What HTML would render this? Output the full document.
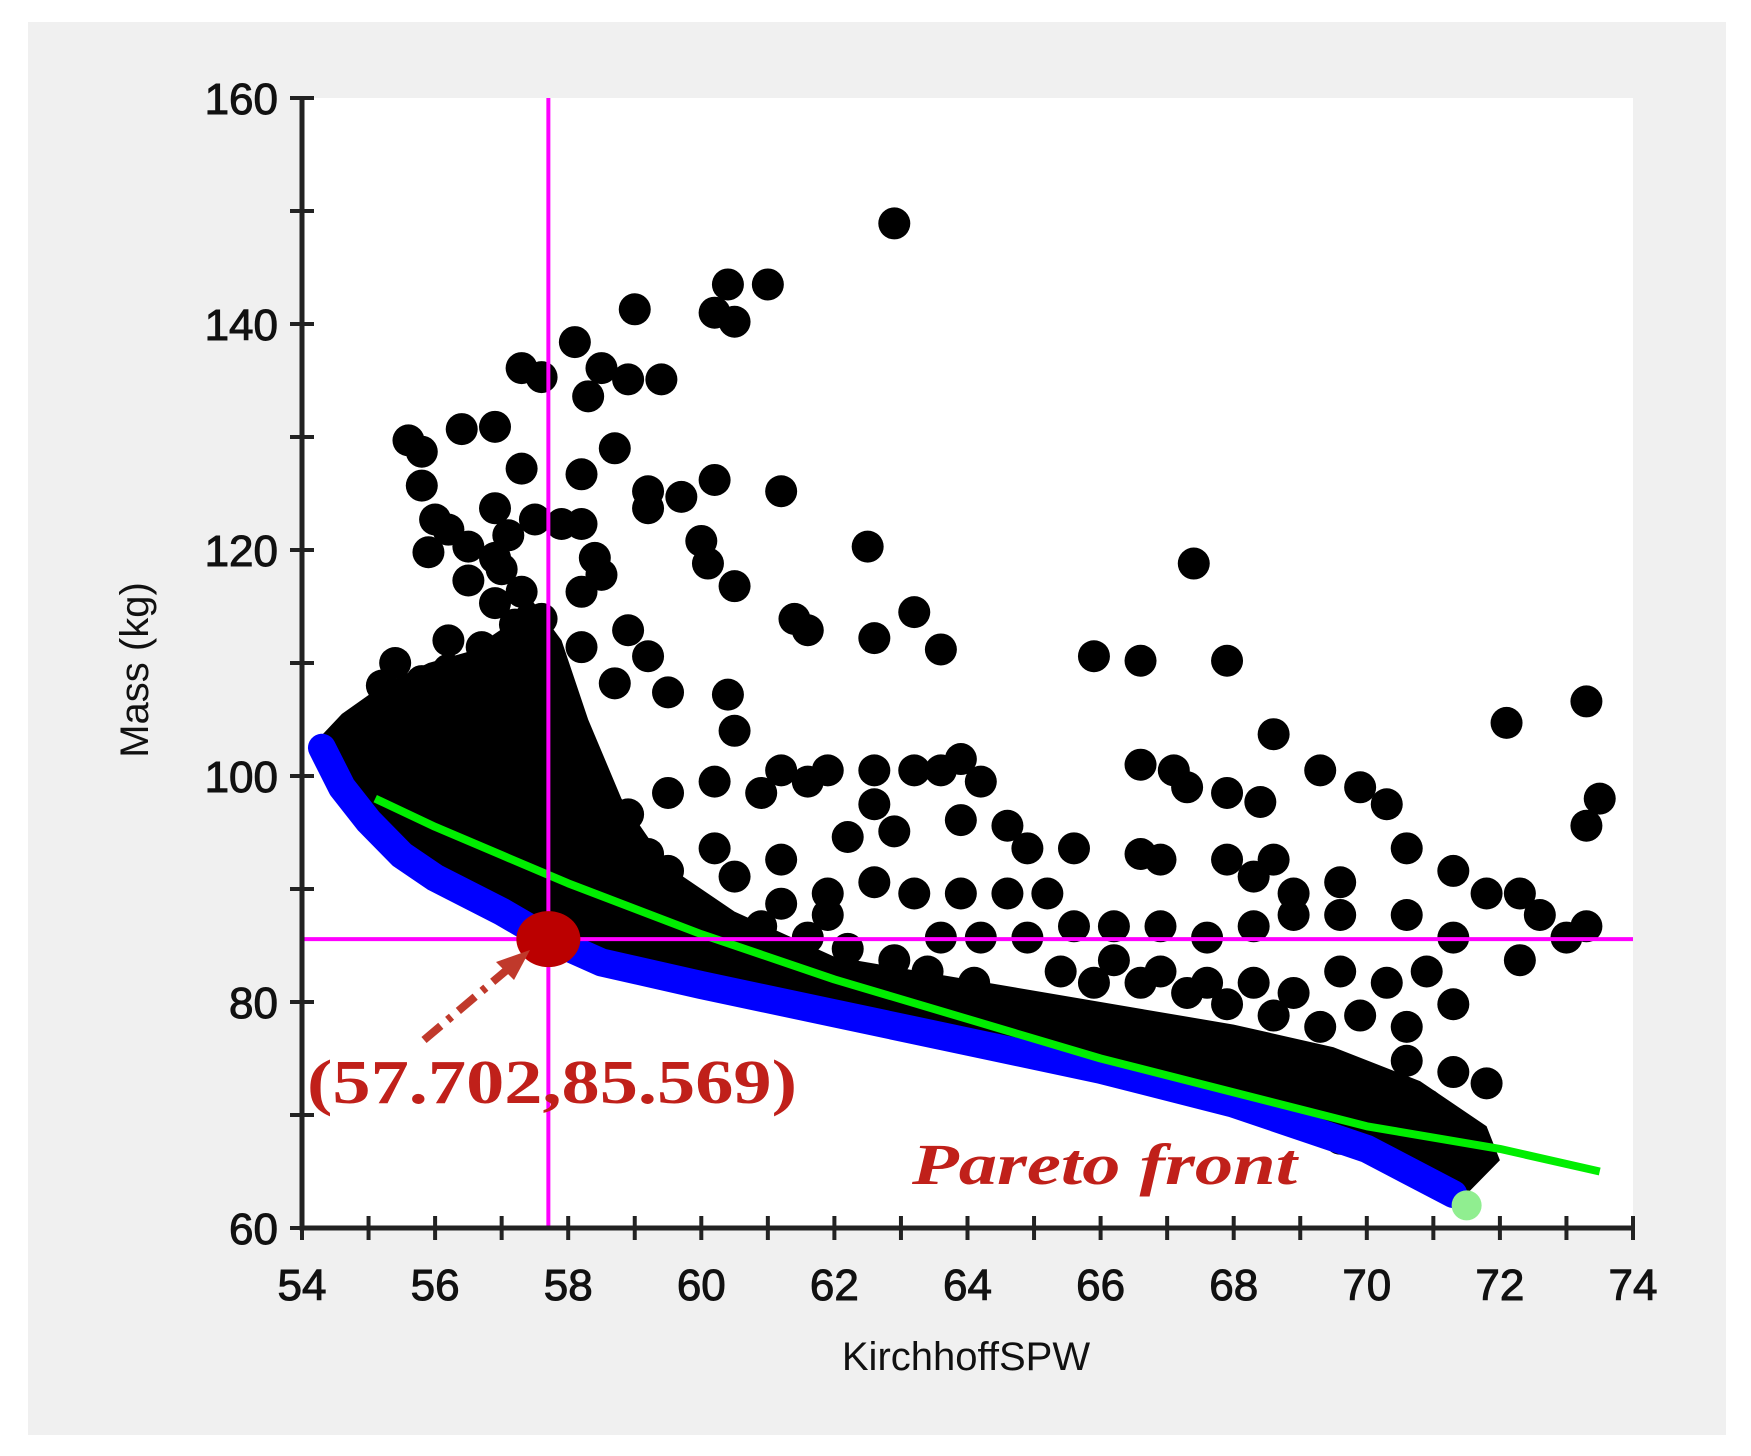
<!DOCTYPE html>
<html><head><meta charset="utf-8"><style>
body{margin:0;background:#fff;width:1751px;height:1456px;overflow:hidden}
svg{display:block}
</style></head><body>
<svg id="chart" width="1751" height="1456" viewBox="0 0 1751 1456">
<rect x="28" y="22" width="1698" height="1413" fill="#f0f0f0"/>
<rect x="302" y="98" width="1331" height="1130" fill="#fff"/>
<g id="dense"></g><g id="pts"></g><g id="front"></g><g id="axes"></g><g id="ann"></g>
</svg>
<script>
const xTicks=[54,56,58,60,62,64,66,68,70,72,74];
const yTicks=[60,80,100,120,140,160];
const xs=[62.9,60.4,61.0,59.0,60.2,60.5,58.1,57.3,57.6,58.5,58.9,59.4,58.3,55.6,55.8,56.4,56.9,57.3,58.2,58.7,59.2,60.2,61.2,59.2,59.7,55.8,56.9,56.0,56.2,55.9,56.5,57.1,57.5,57.9,58.2,58.4,60.0,60.1,60.5,62.5,67.4,61.4,61.6,62.6,63.2,63.6,58.9,59.2,65.9,66.6,67.9,58.2,58.5,58.2,58.7,59.5,60.4,73.3,72.1,68.6,69.3,69.9,70.3,73.5,73.3,67.3,67.9,68.4,66.6,67.1,60.5,61.2,61.9,62.6,63.2,63.6,63.9,64.2,64.6,63.9,62.9,62.2,62.6,61.6,60.9,60.2,59.5,58.9,59.2,58.2,57.9,58.5,59.2,59.5,60.2,60.5,61.2,61.9,62.6,63.2,63.9,64.6,65.2,64.9,65.6,66.6,66.9,67.9,68.6,68.9,68.3,69.6,70.6,71.3,71.8,72.3,72.6,73.0,73.3,72.3,71.3,70.6,69.6,68.9,68.3,67.6,66.9,66.2,65.6,64.9,64.2,63.6,66.2,66.9,67.6,68.3,68.9,69.6,70.3,70.9,71.3,70.6,69.9,69.3,68.6,67.9,67.3,66.6,65.9,65.4,71.8,71.3,70.9,70.6,69.6,68.9,70.1,70.8,71.3,71.4,69.6,68.8,67.9,67.3,66.6,65.9,65.2,64.6,64.1,63.4,62.9,62.2,61.6,61.9,61.2,60.9,56.5,56.9,57.2,56.7,56.2,55.8,57.4,57.0,56.5,57.4,57.2,57.9,57.9,58.1,57.6,57.3,57.0,56.9,56.2,55.4,55.2];
const ys=[148.9,143.5,143.5,141.3,141.0,140.2,138.4,136.1,135.3,136.1,135.1,135.1,133.6,129.7,128.7,130.7,130.9,127.2,126.7,129.0,125.2,126.2,125.2,123.7,124.7,125.7,123.7,122.7,121.8,119.8,120.3,121.3,122.7,122.3,122.3,119.3,120.8,118.8,116.8,120.3,118.8,113.9,112.9,112.2,114.5,111.2,112.9,110.6,110.6,110.2,110.2,116.3,117.8,111.4,108.2,107.4,107.2,106.6,104.7,103.7,100.5,99.0,97.5,98.0,95.6,99.0,98.5,97.7,101.0,100.5,104.0,100.5,100.5,100.5,100.5,100.5,101.5,99.5,95.6,96.1,95.1,94.6,97.5,99.5,98.5,99.5,98.5,96.6,93.1,93.6,97.5,91.6,89.6,91.6,93.6,91.1,92.6,89.6,90.6,89.6,89.6,89.6,89.6,93.6,93.6,93.1,92.6,92.6,92.6,89.6,91.1,90.6,93.6,91.6,89.6,89.6,87.7,85.7,86.7,83.7,85.7,87.7,87.7,87.7,86.7,85.7,86.7,86.7,86.7,85.7,85.7,85.7,83.7,82.7,81.7,81.7,80.8,82.7,81.7,82.7,79.8,77.8,78.8,77.8,78.8,79.8,80.8,81.7,81.7,82.7,72.8,73.8,70.9,74.8,73.8,74.8,69.9,68.9,67.9,66.2,67.9,70.9,73.8,74.8,76.8,77.8,78.8,79.8,81.7,82.7,83.7,84.7,85.7,87.7,88.7,86.7,117.3,115.3,113.4,111.4,109.4,108.4,110.4,107.4,105.5,105.5,99.5,105.5,99.5,96.6,113.9,116.3,118.3,119.3,112.0,110.0,108.0];
const denseX=[54.2,54.6,55.2,55.9,56.5,57.0,57.4,57.9,58.3,58.8,59.5,60.5,62.0,64.0,66.0,68.0,69.5,70.8,71.8,72.0,71.5,70.0,68.0,66.0,64.0,62.0,60.0,58.5,57.7,57.0,56.0,55.5,55.0,54.6,54.3];
const denseY=[103,105.5,108,110,111,113,116,112,105,98,92,88,84,82,80,78,76,73,69,66,63,67,71,74,76.5,79,81.5,83.5,85.6,88,91,93,96,99,102.5];
const frontX=[54.3,54.6,55.0,55.5,56.0,57.0,57.7,58.5,60.0,62.0,64.0,66.0,68.0,70.0,71.3];
const frontY=[102.5,99,96,93,91,88,85.6,83.5,81.5,79,76.5,74,71,67,63];
const greenX=[55.1,56.0,57.0,58.0,60.0,62.0,64.0,66.0,68.0,70.0,72.0,73.5];
const greenY=[98,95.5,93,90.5,86,82,78.5,75,72,69,67,65];
const selX=57.702, selY=85.569;
const endX=71.5, endY=62;

const X0=302,X1=1633,Y0=1228,Y1=98;
const sx=v=>X0+(v-54)/(74-54)*(X1-X0);
const sy=v=>Y0-(v-60)/(160-60)*(Y0-Y1);
const NS='http://www.w3.org/2000/svg';
function mk(tag,attrs,parent){const e=document.createElementNS(NS,tag);for(const k in attrs)e.setAttribute(k,attrs[k]);document.getElementById(parent).appendChild(e);return e;}
const SANS='font-family:"Liberation Sans",sans-serif';
const SERIF='font-family:"Liberation Serif",serif';

let d=denseX.map((v,i)=>(i?'L':'M')+sx(v)+','+sy(denseY[i])).join('')+'Z';
let dp=mk('path',{d:d,fill:'#000'},'dense');



xs.forEach((v,i)=>{
 const c=mk('circle',{cx:sx(v),cy:sy(ys[i]),r:16,fill:'#000'},'pts');
 
 
});

let fp=mk('path',{d:frontX.map((v,i)=>(i?'L':'M')+sx(v)+','+sy(frontY[i])).join(''),fill:'none',stroke:'#0000ff','stroke-width':28,'stroke-linecap':'round','stroke-linejoin':'round'},'front');


let gp=mk('path',{d:greenX.map((v,i)=>(i?'L':'M')+sx(v)+','+sy(greenY[i])).join(''),fill:'none',stroke:'#00ee00','stroke-width':8,'stroke-linejoin':'round'},'front');



let vl=mk('line',{x1:sx(selX),x2:sx(selX),y1:Y1,y2:Y0,stroke:'#ff00ff','stroke-width':4},'front');


let hl=mk('line',{x1:X0,x2:X1,y1:sy(selY),y2:sy(selY),stroke:'#ff00ff','stroke-width':4},'front');


let rd=mk('ellipse',{cx:sx(selX),cy:sy(selY),rx:32,ry:28,fill:'#bb0000'},'front');


let ed=mk('circle',{cx:sx(endX),cy:sy(endY),r:15,fill:'#90ee90'},'front');



let ax=mk('path',{d:`M${X0},${Y1-2}V${Y0}H${X1+2}`,fill:'none',stroke:'#222','stroke-width':5},'axes');


for(let v=54;v<=74;v++){const t=mk('line',{x1:sx(v),x2:sx(v),y1:Y0-12,y2:Y0+12,stroke:'#222','stroke-width':4},'axes');
 }
for(let v=60;v<=160;v+=10){const t=mk('line',{x1:X0-12,x2:X0+12,y1:sy(v),y2:sy(v),stroke:'#222','stroke-width':4},'axes');
 }
xTicks.forEach(v=>{const t=mk('text',{x:sx(v),y:Y0+72,'text-anchor':'middle','font-size':44,fill:'#111',stroke:'#111','stroke-width':1,style:SANS},'axes');t.textContent=v;
 });
yTicks.forEach(v=>{const t=mk('text',{x:X0-24,y:sy(v)+16,'text-anchor':'end','font-size':44,fill:'#111',stroke:'#111','stroke-width':1,style:SANS},'axes');t.textContent=v;
 });
let xt=mk('text',{x:966,y:1370,'text-anchor':'middle','font-size':40,fill:'#111',style:SANS},'axes');xt.textContent='KirchhoffSPW';

let yt=mk('text',{x:0,y:0,'text-anchor':'middle','font-size':40,fill:'#111',style:SANS,transform:'translate(148,670) rotate(-90)'},'axes');yt.textContent='Mass (kg)';


let ar=mk('line',{x1:424,y1:1040,x2:515,y2:963,stroke:'#c0392b','stroke-width':8,'stroke-dasharray':'22 9 5 9'},'ann');

let ah=mk('polygon',{points:'530,950 496,962 514,980',fill:'#c0392b'},'ann');

let lb=mk('text',{x:307,y:1103,'font-size':62,'font-weight':'bold',fill:'#c0201a',textLength:490,lengthAdjust:'spacingAndGlyphs',style:SERIF},'ann');lb.textContent='(57.702,85.569)';

let pf=mk('text',{x:912,y:1184,'font-size':58,'font-weight':'bold','font-style':'italic',fill:'#c0201a',textLength:385,lengthAdjust:'spacingAndGlyphs',style:SERIF},'ann');pf.textContent='Pareto front';

</script>
</body></html>
